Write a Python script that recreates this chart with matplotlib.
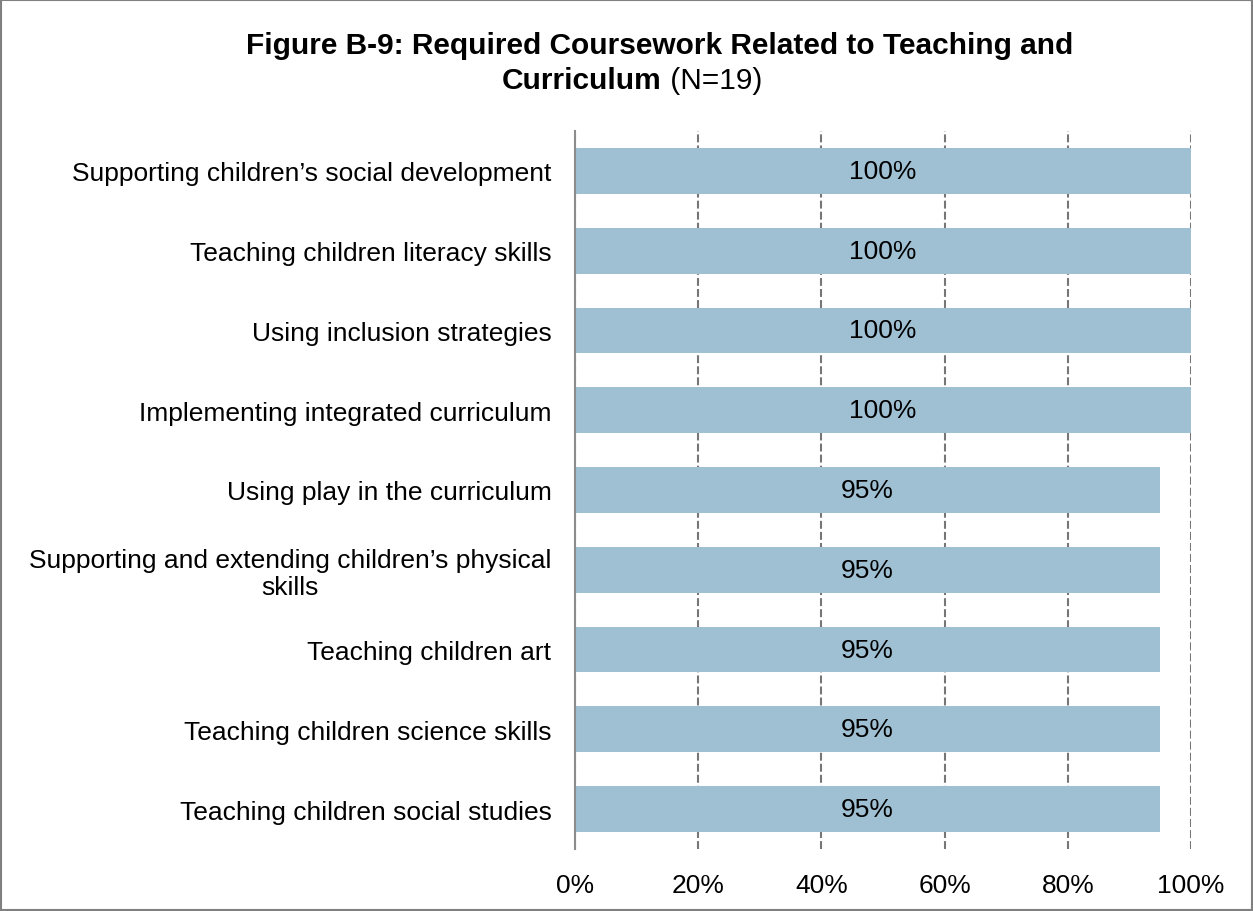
import matplotlib.pyplot as plt
from matplotlib.patches import Rectangle

plt.rcParams['font.family'] = ['Liberation Sans', 'DejaVu Sans']

categories = [
    "Supporting children\u2019s social development",
    "Teaching children literacy skills",
    "Using inclusion strategies",
    "Implementing integrated curriculum",
    "Using play in the curriculum",
    "Supporting and extending children\u2019s physical\nskills",
    "Teaching children art",
    "Teaching children science skills",
    "Teaching children social studies",
]
values = [100, 100, 100, 100, 95, 95, 95, 95, 95]
xticks = [0, 20, 40, 60, 80, 100]
xlabels = ["0%", "20%", "40%", "60%", "80%", "100%"]

fig = plt.figure(figsize=(12.53, 9.12), dpi=100)
ax = fig.add_axes([575 / 1253, 1 - 850 / 912, (1191 - 575) / 1253, (850 - 132) / 912])

pos = list(range(len(categories)))
ax.barh(pos, values, height=0.575, color="#9FBFD3", zorder=2)
for p, v in zip(pos, values):
    ax.text(v / 2, p, "%d%%" % v, ha="center", va="center", fontsize=19, color="#000000", zorder=3)

ax.set_xlim(0, 100)
ax.set_ylim(len(categories) - 0.5, -0.5)
ax.set_yticks(pos)
ax.set_yticklabels(categories, fontsize=19, multialignment="center", linespacing=1.15)
ax.set_xticks(xticks)
ax.set_xticklabels(xlabels, fontsize=19)
ax.tick_params(axis="y", length=0, pad=17)
ax.tick_params(axis="x", length=0, pad=17)
ax.xaxis.grid(True, linestyle=(0, (3.8, 1.5)), color="#767676", linewidth=1.5, zorder=1)
for s in ["top", "right", "bottom"]:
    ax.spines[s].set_visible(False)
ax.spines["left"].set_color("#8C8C8C")
ax.spines["left"].set_linewidth(1.5)

fig.text(660 / 1253, 1 - 46 / 912, "Figure B-9: Required Coursework Related to Teaching and",
         ha="center", va="center", fontsize=21.5, fontweight="bold")
t1 = fig.text(0.5, 1 - 81 / 912, "Curriculum", ha="right", va="center", fontsize=21.5, fontweight="bold")
t2 = fig.text(0.5, 1 - 81 / 912, " (N=19)", ha="left", va="center", fontsize=21.5)
# shift both parts so the line is centred
fig.canvas.draw()
r = fig.canvas.get_renderer()
w1 = t1.get_window_extent(r).width
w2 = t2.get_window_extent(r).width
cx = 632 / 1253 + (w1 - w2) / 2 / 1253
t1.set_x(cx)
t2.set_x(cx)

fig.patches.append(Rectangle((0.001, 0.001), 0.998, 0.998, transform=fig.transFigure,
                             fill=False, edgecolor="#808080", linewidth=1.5))

fig.savefig("out.png", dpi=100)
